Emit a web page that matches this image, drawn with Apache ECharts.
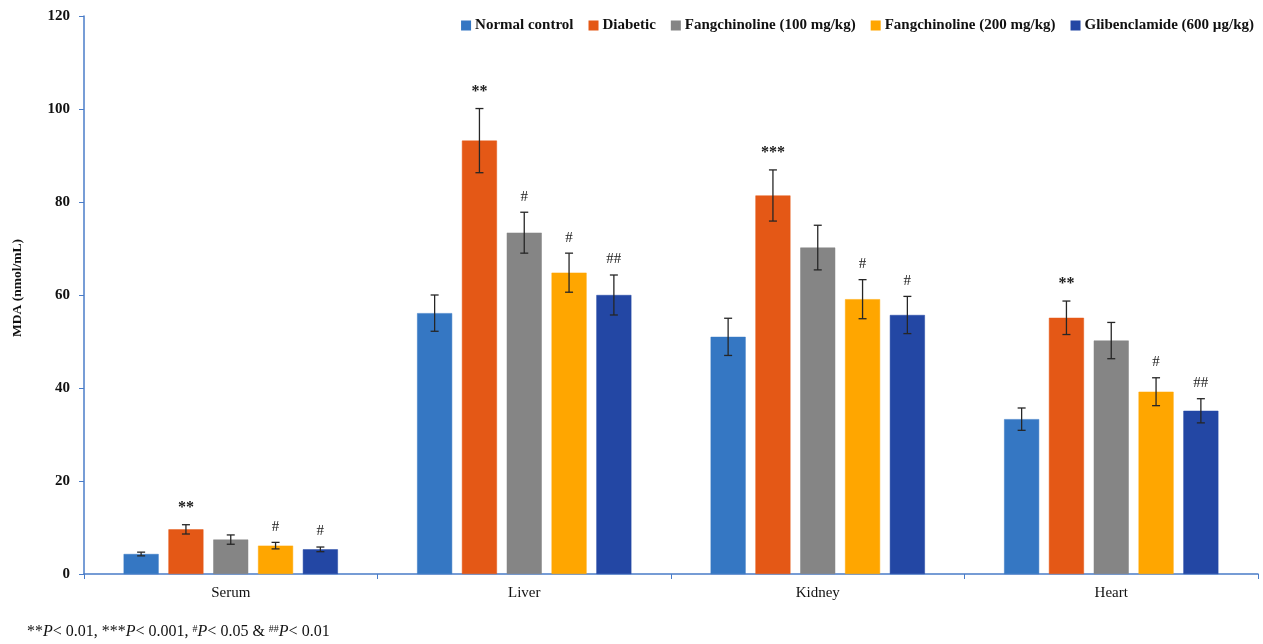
<!DOCTYPE html>
<html>
<head>
<meta charset="utf-8">
<script src="https://cdn.jsdelivr.net/npm/echarts@6/dist/echarts.min.js"></script>
<style>html,body{margin:0;padding:0;background:#fff;}#c{width:1263px;height:644px;}</style>
</head>
<body>
<div id="c"></div>
<script>
const categories = ['Serum', 'Liver', 'Kidney', 'Heart'];
const seriesNames = ['Normal control', 'Diabetic', 'Fangchinoline (100 mg/kg)', 'Fangchinoline (200 mg/kg)', 'Glibenclamide (600 µg/kg)'];
const colors = ['#3577C3', '#E45816', '#858585', '#FFA600', '#2347A4'];
const normalControl = [4.3, 56.1, 51.0, 33.3];
const diabetic = [9.6, 93.2, 81.4, 55.1];
const fang100 = [7.4, 73.4, 70.2, 50.2];
const fang200 = [6.1, 64.8, 59.1, 39.2];
const glib600 = [5.3, 60.0, 55.7, 35.1];
const errNormal = [0.4, 3.9, 4.0, 2.4];
const errDiabetic = [1.0, 6.9, 5.5, 3.6];
const errFang100 = [1.0, 4.4, 4.8, 3.9];
const errFang200 = [0.7, 4.2, 4.2, 3.0];
const errGlib = [0.5, 4.3, 4.0, 2.6];
const sigNormal = ['', '', '', ''];
const sigDiabetic = ['**', '**', '***', '**'];
const sigFang100 = ['', '#', '', ''];
const sigFang200 = ['#', '#', '#', '#'];
const sigGlib = ['#', '##', '#', '##'];
const yTicks = [0, 20, 40, 60, 80, 100, 120];

const values = [normalControl, diabetic, fang100, fang200, glib600];
const errors = [errNormal, errDiabetic, errFang100, errFang200, errGlib];
const sigs = [sigNormal, sigDiabetic, sigFang100, sigFang200, sigGlib];

const CAT_GAP = 0.27, BAR_GAP = 0.28, N = values.length;
const serif = '"Liberation Serif", "Times New Roman", serif';
const axisBlue = '#4A7CC8';

const series = [];
values.forEach((vals, i) => {
  series.push({
    name: seriesNames[i], type: 'bar', data: vals,
    barCategoryGap: (CAT_GAP * 100) + '%', barGap: (BAR_GAP * 100) + '%',
    itemStyle: { color: colors[i], borderColor: colors[i], borderWidth: 0.5, opacity: 1 },
    emphasis: { disabled: true }
  });
});
values.forEach((vals, i) => {
  const data = vals.map((v, k) => [k, v, errors[i][k], sigs[i][k]]);
  series.push({
    type: 'custom', name: seriesNames[i] + ' err', z: 10, silent: true,
    encode: { x: 0, y: 1 },
    data: data,
    renderItem: function (params, api) {
      const k = api.value(0), v = api.value(1), e = api.value(2);
      const sig = data[params.dataIndex][3];
      const band = api.size([1, 0])[0];
      const groupW = band * (1 - CAT_GAP);
      const barW = groupW / (N + (N - 1) * BAR_GAP);
      const center = api.coord([k, 0])[0];
      const x = center - groupW / 2 + i * barW * (1 + BAR_GAP) + barW / 2;
      const yTop = api.coord([k, v + e])[1];
      const yBot = api.coord([k, v - e])[1];
      const cap = 4;
      const style = { stroke: '#262626', lineWidth: 1.3 };
      const children = [
        { type: 'line', shape: { x1: x, y1: yTop, x2: x, y2: yBot }, style: style },
        { type: 'line', shape: { x1: x - cap, y1: yTop, x2: x + cap, y2: yTop }, style: style },
        { type: 'line', shape: { x1: x - cap, y1: yBot, x2: x + cap, y2: yBot }, style: style }
      ];
      if (sig) {
        children.push({
          type: 'text',
          style: {
            text: sig, x: x, y: yTop - (sig[0] === '*' ? 9 : 8),
            align: 'center', verticalAlign: 'bottom',
            font: (sig[0] === '*' ? 'bold 16px ' : '15px ') + serif,
            fill: '#1a1a1a'
          }
        });
      }
      return { type: 'group', children: children };
    }
  });
});

const chart = echarts.init(document.getElementById('c'));
chart.setOption({
  animation: false,
  backgroundColor: '#fff',
  legend: {
    data: seriesNames,
    right: 4, top: 13,
    itemWidth: 8, itemHeight: 8, itemGap: 15,
    icon: 'rect',
    textStyle: { fontFamily: serif, fontSize: 15, fontWeight: 'bold', color: '#111', padding: [0, 0, 0, 0] }
  },
  grid: { left: 84, right: 5, top: 16, bottom: 70 },
  xAxis: {
    type: 'category', data: categories,
    axisLine: { lineStyle: { color: axisBlue, width: 1.5 } },
    axisTick: { show: true, length: 5, lineStyle: { color: axisBlue } },
    axisLabel: { fontFamily: serif, fontSize: 15, color: '#111', margin: 12 }
  },
  yAxis: {
    type: 'value', min: 0, max: 120, interval: 20,
    axisLine: { show: true, lineStyle: { color: axisBlue, width: 1.5 } },
    axisTick: { show: true, length: 5, lineStyle: { color: axisBlue } },
    splitLine: { show: false },
    axisLabel: {
      fontFamily: serif, fontSize: 15, fontWeight: 'bold', color: '#111', margin: 14,
      formatter: v => yTicks.includes(v) ? String(v) : ''
    }
  },
  graphic: [
    {
      type: 'text', x: 18, y: 288, rotation: Math.PI / 2,
      style: { text: 'MDA (nmol/mL)', font: 'bold 13.5px ' + serif, fill: '#111', align: 'center', verticalAlign: 'middle' }
    },
    {
      type: 'text', left: 27, top: 624,
      style: {
        text: '**{i|P}< 0.01, ***{i|P}< 0.001, {s|#}{i|P}< 0.05 & {s|##}{i|P}< 0.01',
        font: '16px ' + serif, fill: '#111',
        rich: {
          i: { fontFamily: serif, fontSize: 16, fontStyle: 'italic', fill: '#111' },
          s: { fontFamily: serif, fontSize: 10, fill: '#111', verticalAlign: 'top', padding: [0, 0, 6, 0] }
        }
      }
    }
  ],
  series: series
});
</script>
</body>
</html>
